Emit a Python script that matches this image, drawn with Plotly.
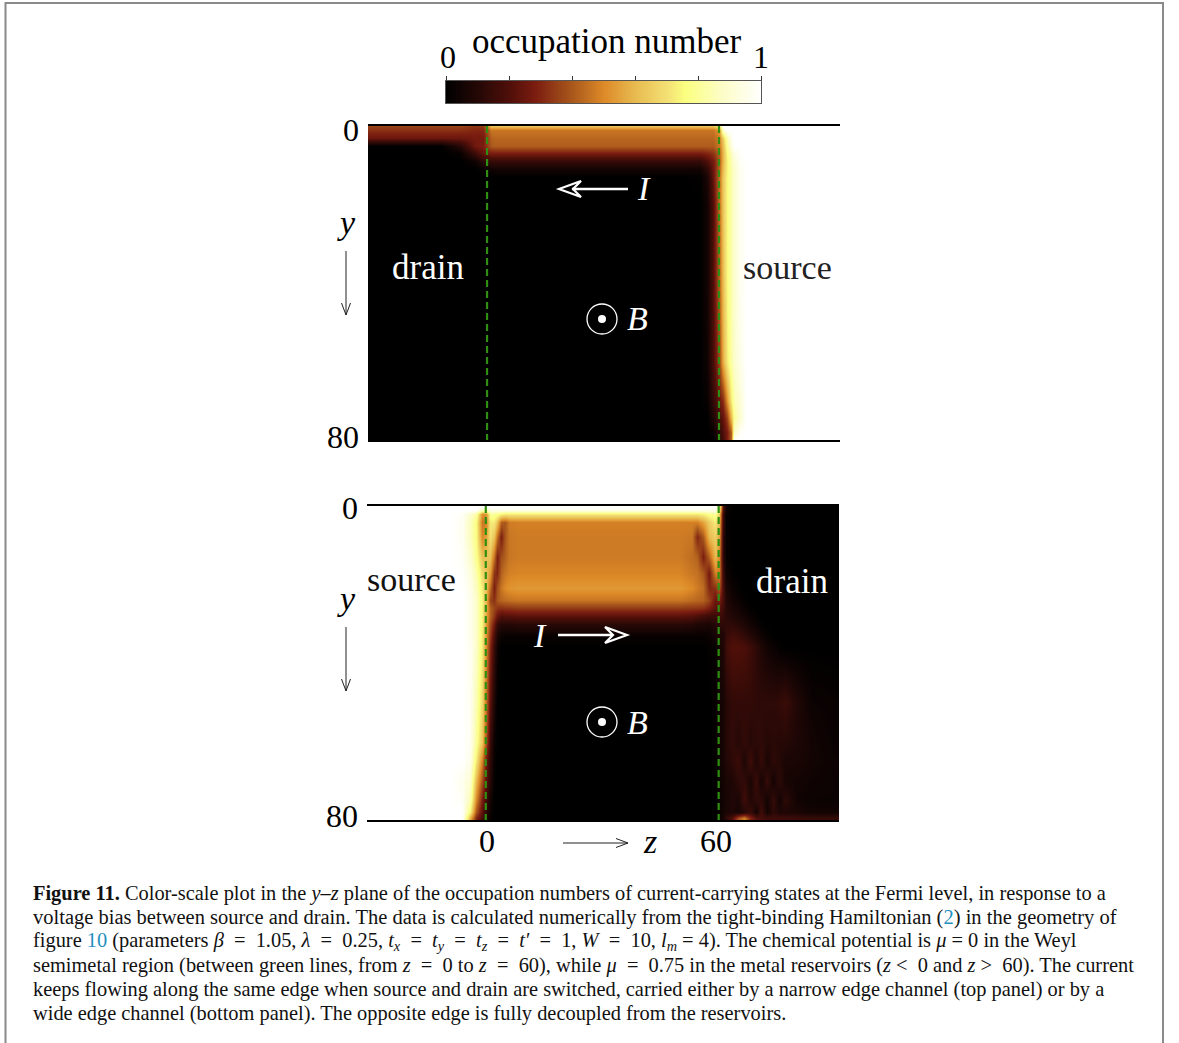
import plotly.graph_objects as go

W, H = 1179, 1043
SERIF = "Liberation Serif"
COLORS = [[0, "#000000"], [0.1, "#250806"], [0.2, "#4f0f09"], [0.28, "#7a1c10"], [0.4, "#a9581c"],
          [0.5, "#dd8a28"], [0.6, "#e8bb50"], [0.7, "#f3e074"], [0.76, "#fbff80"], [0.87, "#fcfdc4"], [1, "#ffffff"]]

# colour key
key_levels = [0, .02, .04, .06, .08, .1, .12, .14, .16, .18, .2, .22, .24, .26, .28, .3, .32, .34, .36, .38, .4, .42,
              .44, .46, .48, .5, .52, .54, .56, .58, .6, .62, .64, .66, .68, .7, .72, .74, .76, .78, .8, .82, .84, .86,
              .88, .9, .92, .94, .96, .98, 1]
key_ticks = [0, .2, .4, .6, .8, 1]

# top panel
top_z = [-31, -12, -7, -3, -1, 1, 2, 50, 55, 57, 58.5, 60, 61, 62, 63, 64, 65.5, 67, 91]
top_y = [0, 1, 3, 5, 7, 9, 11, 13, 20, 40, 60, 70, 74.5, 78, 80]
top_v = [
    [.36, .36, .36, .33, .33, .62, .62, .62, .62, .62, .62, .72, 1.0, 1, 1, 1, 1, 1, 1],
    [.32, .32, .32, .30, .30, .46, .46, .46, .46, .46, .46, .52, .90, 1, 1, 1, 1, 1, 1],
    [.25, .25, .25, .27, .27, .42, .43, .43, .43, .43, .43, .48, .66, .84, .96, 1, 1, 1, 1],
    [0, 0, .10, .26, .28, .40, .41, .41, .41, .41, .41, .46, .62, .80, .92, 1, 1, 1, 1],
    [0, 0, .02, .16, .24, .28, .28, .28, .28, .30, .33, .42, .60, .76, .86, .94, .99, 1, 1],
    [0, 0, 0, .04, .12, .14, .14, .14, .14, .20, .27, .40, .60, .74, .84, .91, .98, 1, 1],
    [0, 0, 0, 0, .02, .04, .05, .05, .05, .12, .25, .42, .62, .74, .83, .89, .97, 1, 1],
    [0, 0, 0, 0, 0, 0, 0, 0, .01, .07, .24, .44, .64, .75, .83, .89, .97, 1, 1],
    [0, 0, 0, 0, 0, 0, 0, 0, 0, .05, .20, .44, .64, .75, .83, .89, .97, 1, 1],
    [0, 0, 0, 0, 0, 0, 0, 0, 0, .05, .20, .42, .62, .75, .83, .89, .97, 1, 1],
    [0, 0, 0, 0, 0, 0, 0, 0, 0, .04, .18, .36, .58, .72, .82, .89, .95, 1, 1],
    [0, 0, 0, 0, 0, 0, 0, 0, 0, .02, .13, .24, .32, .52, .72, .84, .91, 1, 1],
    [0, 0, 0, 0, 0, 0, 0, 0, 0, 0, .08, .18, .24, .36, .60, .80, .90, 1, 1],
    [0, 0, 0, 0, 0, 0, 0, 0, 0, 0, .03, .12, .20, .28, .42, .88, .98, 1, 1],
    [0, 0, 0, 0, 0, 0, 0, 0, 0, 0, 0, .10, .18, .28, .42, 1, 1, 1, 1],
]

# bottom panel
bot_z = [-31, -9, -6, -4, -2.5, -1, 0, 1, 2, 3, 4, 5, 6, 8, 50, 53, 54.5, 56, 57.5, 59, 60, 61,
         62, 63.5, 65, 66.5, 68, 69.5, 71, 72.5, 74, 75.5, 77, 80, 84, 91]
bot_y = [0, 1, 2, 4, 8, 13, 17, 21, 24, 26, 28, 30, 33, 36, 50, 60, 65, 70, 75, 78, 79.5, 80]
bot_v = [
    [1, 1, 1, 1, 1, 1, 1, 1, 1, 1, 1, 1, 1, 1, 1, 1, 1, 1, 1, 1, .80, .20, .05, 0, 0, 0, 0, 0, 0, 0, 0, 0, 0, 0, 0, 0],
    [1, 1, 1, 1, 1, .85, .85, .95, .95, .95, .95, .95, .95, .95, .95, .95, .95, .95, .95, .95, .75, .18, .03, 0, 0, 0, 0, 0, 0, 0, 0, 0, 0, 0, 0, 0],
    [1, 1, .98, .90, .82, .52, .52, .80, .80, .78, .74, .72, .72, .72, .72, .72, .72, .74, .78, .80, .65, .15, .02, 0, 0, 0, 0, 0, 0, 0, 0, 0, 0, 0, 0, 0],
    [1, 1, .97, .86, .76, .46, .48, .72, .72, .62, .42, .40, .47, .48, .48, .48, .48, .55, .65, .72, .60, .15, .01, 0, 0, 0, 0, 0, 0, 0, 0, 0, 0, 0, 0, 0],
    [1, 1, .97, .86, .76, .50, .55, .70, .62, .45, .28, .40, .46, .47, .47, .46, .30, .40, .60, .65, .55, .12, .02, 0, 0, 0, 0, 0, 0, 0, 0, 0, 0, 0, 0, 0],
    [1, 1, .98, .90, .78, .62, .62, .62, .45, .28, .38, .42, .46, .47, .47, .44, .42, .28, .42, .60, .50, .12, .02, 0, 0, 0, 0, 0, 0, 0, 0, 0, 0, 0, 0, 0],
    [1, 1, .99, .93, .83, .68, .62, .54, .33, .30, .42, .46, .48, .49, .49, .46, .45, .40, .27, .48, .48, .15, .04, .01, 0, 0, 0, 0, 0, 0, 0, 0, 0, 0, 0, 0],
    [1, 1, 1, .95, .86, .72, .62, .44, .28, .38, .46, .50, .52, .53, .53, .50, .47, .44, .30, .32, .40, .18, .07, .03, .01, 0, 0, 0, 0, 0, 0, 0, 0, 0, 0, 0],
    [1, 1, 1, .96, .88, .74, .60, .36, .32, .40, .43, .44, .45, .46, .46, .44, .43, .42, .36, .25, .28, .18, .09, .05, .03, .01, 0, 0, 0, 0, 0, 0, 0, 0, 0, 0],
    [1, 1, 1, .96, .88, .74, .58, .42, .36, .33, .32, .33, .33, .34, .34, .33, .33, .32, .28, .22, .22, .16, .10, .07, .05, .03, .01, 0, 0, 0, 0, 0, 0, 0, 0, 0],
    [1, 1, 1, .96, .88, .74, .56, .42, .33, .25, .20, .21, .21, .22, .22, .21, .19, .17, .15, .15, .16, .14, .11, .09, .07, .05, .03, .01, 0, 0, 0, 0, 0, 0, 0, 0],
    [1, 1, 1, .96, .88, .74, .54, .38, .26, .14, .10, .10, .10, .11, .11, .10, .08, .08, .07, .10, .12, .12, .12, .12, .10, .08, .05, .03, .01, 0, 0, 0, 0, 0, 0, 0],
    [1, 1, 1, .96, .88, .72, .52, .34, .18, .07, .03, .02, .02, .02, .02, .02, .02, .02, .03, .06, .08, .08, .14, .17, .16, .13, .10, .07, .04, .02, 0, 0, 0, 0, 0, 0],
    [1, 1, 1, .97, .88, .72, .50, .30, .14, .04, 0, 0, 0, 0, 0, 0, 0, 0, .01, .02, .06, .08, .16, .20, .20, .19, .16, .12, .08, .05, .03, .01, 0, 0, 0, 0],
    [1, 1, 1, .97, .84, .68, .45, .22, .08, 0, 0, 0, 0, 0, 0, 0, 0, 0, 0, .02, .05, .06, .10, .13, .13, .13, .13, .12, .12, .12, .12, .13, .15, .09, .03, .02],
    [1, 1, 1, .97, .80, .63, .39, .15, .03, 0, 0, 0, 0, 0, 0, 0, 0, 0, 0, .01, .05, .06, .10, .13, .10, .13, .10, .12, .12, .10, .11, .10, .10, .08, .05, .02],
    [1, 1, 1, .95, .72, .48, .26, .12, .02, 0, 0, 0, 0, 0, 0, 0, 0, 0, 0, .01, .04, .06, .09, .12, .15, .08, .16, .08, .14, .07, .12, .10, .07, .07, .05, .03],
    [1, 1, .96, .90, .60, .38, .22, .10, .01, 0, 0, 0, 0, 0, 0, 0, 0, 0, 0, .01, .04, .05, .07, .08, .12, .13, .07, .15, .06, .14, .05, .12, .06, .05, .04, .03],
    [1, 1, .98, .84, .50, .28, .16, .05, 0, 0, 0, 0, 0, 0, 0, 0, 0, 0, 0, 0, .03, .05, .06, .09, .07, .16, .09, .12, .12, .05, .14, .05, .12, .05, .03, .03],
    [1, 1, 1, .74, .40, .22, .12, .03, 0, 0, 0, 0, 0, 0, 0, 0, 0, 0, 0, 0, .03, .05, .07, .08, .06, .10, .15, .05, .16, .05, .12, .08, .08, .07, .05, .05],
    [1, 1, 1, .58, .30, .18, .08, .02, 0, 0, 0, 0, 0, 0, 0, 0, 0, 0, 0, 0, .03, .06, .12, .20, .38, .48, .30, .20, .18, .16, .16, .16, .16, .15, .14, .14],
    [1, 1, 1, .58, .30, .18, .08, .02, 0, 0, 0, 0, 0, 0, 0, 0, 0, 0, 0, 0, .03, .06, .12, .20, .38, .48, .30, .20, .18, .16, .16, .16, .16, .15, .14, .14],
]
assert all(len(r) == len(top_z) for r in top_v) and len(top_v) == len(top_y)
assert all(len(r) == len(bot_z) for r in bot_v) and len(bot_v) == len(bot_y)

z_edges = [0, 60]
y_edges = [0, 80]
y_labels = ["0", "80"]
EQ = "\u00a0=\u00a0"
caption = [
    "<b>Figure 11.</b> Color-scale plot in the <i>y</i>–<i>z</i> plane of the occupation numbers of current-carrying states at the Fermi level, in response to a",
    "voltage bias between source and drain. The data is calculated numerically from the tight-binding Hamiltonian (<span style=\"color:#1f8fc0\">2</span>) in the geometry of",
    f"figure <span style=\"color:#1f8fc0\">10</span> (parameters <i>β</i> {EQ} 1.05, <i>λ</i> {EQ} 0.25, <i>t<sub>x</sub></i> {EQ} <i>t<sub>y</sub></i> {EQ} <i>t<sub>z</sub></i> {EQ} <i>t′</i> {EQ} 1, <i>W</i> {EQ} 10, <i>l<sub>m</sub></i> = 4). The chemical potential is <i>μ</i> = 0 in the Weyl",
    f"semimetal region (between green lines, from <i>z</i> {EQ} 0 to <i>z</i> {EQ} 60), while <i>μ</i> {EQ} 0.75 in the metal reservoirs (<i>z</i> &lt;\u00a0 0 and <i>z</i> &gt;\u00a0 60). The current",
    "keeps flowing along the same edge when source and drain are switched, carried either by a narrow edge channel (top panel) or by a",
    "wide edge channel (bottom panel). The opposite edge is fully decoupled from the reservoirs.",
]
caption_sizes = [20.4, 20.5, 20.4, 20.4, 20.4, 20.4]


def px(x):
    return x / W


def py(y):
    return 1 - y / H


fig = go.Figure()
fig.add_trace(go.Heatmap(z=[key_levels], x=key_levels, y=[0], zmin=0, zmax=1, colorscale=COLORS, showscale=False,
                         zsmooth="best", xaxis="x3", yaxis="y3", hoverinfo="skip"))
fig.add_trace(go.Heatmap(z=top_v, x=top_z, y=top_y, zmin=0, zmax=1, colorscale=COLORS, showscale=False,
                         zsmooth="best", xaxis="x", yaxis="y", hoverinfo="skip"))
fig.add_trace(go.Heatmap(z=bot_v, x=bot_z, y=bot_y, zmin=0, zmax=1, colorscale=COLORS, showscale=False,
                         zsmooth="best", xaxis="x2", yaxis="y2", hoverinfo="skip"))
for xa, ya in (("x", "y"), ("x2", "y2")):
    for z0 in z_edges:
        fig.add_trace(go.Scatter(x=[z0, z0], y=y_edges, mode="lines", xaxis=xa, yaxis=ya, hoverinfo="skip",
                                 line=dict(color="#2f8f12", width=2.2, dash="7px,4px"), showlegend=False))

ann = []


def text(x, y, s, size=34, color="black"):
    ann.append(dict(x=px(x), y=py(y), xref="paper", yref="paper", text=s, showarrow=False,
                    font=dict(family=SERIF, size=size, color=color), xanchor="center", yanchor="middle"))


text(607, 42, "occupation number", size=35)
text(448, 57, "0", size=32)
text(761, 57, "1", size=32)
text(428, 267, "drain", color="white", size=35)
text(787, 267, "source", color="#222222", size=34)
text(411, 579, "source", color="#111111", size=34)
text(792, 581, "drain", color="white", size=35)
text(346, 222, "<i>y</i>")
text(346, 598, "<i>y</i>")
text(650, 841, "<i>z</i>")
text(644, 189, "<i>I</i>", color="white")
text(540, 635, "<i>I</i>", color="white")
text(638, 319, "<i>B</i>", color="white")
text(638, 722, "<i>B</i>", color="white")

for i, line in enumerate(caption):
    ann.append(dict(x=px(31), y=py(893 + 24 * i), xref="paper", yref="paper", text=line, showarrow=False,
                    font=dict(family=SERIF, size=caption_sizes[i], color="#111111"), xanchor="left", yanchor="middle", align="left"))


def path(points, color, width, close=False):
    d = "M " + " L ".join(f"{px(a)} {py(b)}" for a, b in points) + (" Z" if close else "")
    return dict(type="path", xref="paper", yref="paper", path=d, line=dict(color=color, width=width), layer="above")


shapes = [
    dict(type="path", xref="paper", yref="paper", line=dict(color="#8a8a8a", width=2),
         path=f"M {px(5.5)} 0 L {px(5.5)} {py(3)} L {px(1163)} {py(3)} L {px(1163)} 0"),
    path([(628, 189), (572, 189)], "white", 2.5),
    path([(559, 189), (581, 181), (573, 189), (581, 197)], "white", 2.2, close=True),
    path([(558, 635), (612, 635)], "white", 2.5),
    path([(627, 635), (605, 627), (613, 635), (605, 643)], "white", 2.2, close=True),
    path([(346, 251), (346, 315)], "#222222", 1),
    path([(341.5, 303), (346, 315), (350.5, 303)], "#222222", 1),
    path([(346, 627), (346, 691)], "#222222", 1),
    path([(341.5, 679), (346, 691), (350.5, 679)], "#222222", 1),
    path([(563, 843), (628, 843)], "#222222", 1),
    path([(616, 838.5), (628, 843), (616, 847.5)], "#222222", 1),
]
for cy in (319, 722):
    shapes.append(dict(type="circle", xref="paper", yref="paper", x0=px(587), x1=px(617), y0=py(cy + 15), y1=py(cy - 15),
                       line=dict(color="white", width=1.3), layer="above"))
    shapes.append(dict(type="circle", xref="paper", yref="paper", x0=px(598), x1=px(606), y0=py(cy + 4), y1=py(cy - 4),
                       fillcolor="white", line=dict(width=0), layer="above"))

line_style = dict(showline=True, linecolor="black", linewidth=2, mirror=True, showgrid=False, zeroline=False)
y_style = dict(ticktext=y_labels, ticks="", tickfont=dict(family=SERIF, size=32, color="black"),
               showgrid=False, zeroline=False, showline=False, range=[80, 0], ticklabelstandoff=8)
fig.update_layout(
    width=W, height=H, margin=dict(l=0, r=0, t=0, b=0, autoexpand=False), paper_bgcolor="white", plot_bgcolor="white",
    showlegend=False, annotations=ann, shapes=shapes,
    xaxis=dict(domain=[px(368), px(840)], range=[-30.8, 91.3], tickvals=[], anchor="y", side="bottom", **line_style),
    yaxis=dict(domain=[py(440), py(126)], anchor="x", tickvals=[1, 79.2], **y_style),
    xaxis2=dict(domain=[px(367), px(839)], range=[-30.6, 91.0], tickvals=[0.3, 59.3], ticktext=["0", "60"], ticks="",
                ticklabelstandoff=-8, tickfont=dict(family=SERIF, size=32, color="black"), anchor="y2", side="bottom", **line_style),
    yaxis2=dict(domain=[py(820), py(506)], anchor="x2", tickvals=[0.5, 79], **y_style),
    xaxis3=dict(domain=[px(446), px(761)], range=[0, 1], tickvals=key_ticks, showticklabels=False, ticks="outside", ticklen=4,
                tickwidth=1, tickcolor="#333333", side="top", anchor="y3", showline=True, linecolor="#555555", linewidth=1,
                mirror=True, showgrid=False, zeroline=False),
    yaxis3=dict(domain=[py(103), py(81)], range=[-0.5, 0.5], showticklabels=False, ticks="", anchor="x3",
                showline=True, linecolor="#555555", linewidth=1, mirror=True, showgrid=False, zeroline=False),
)

fig.write_html("out.html", config=dict(displayModeBar=False), post_script="document.body.style.margin='0';")
